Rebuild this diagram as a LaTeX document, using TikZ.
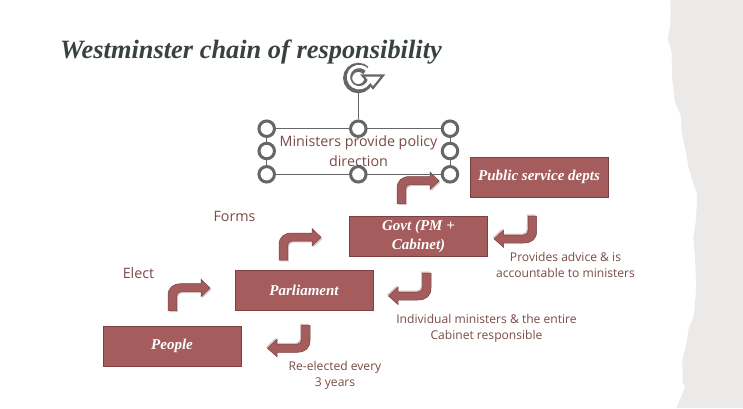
\documentclass[tikz,border=0pt]{standalone}
\usepackage{fontspec}
\setmainfont{Liberation Serif}
\setsansfont{Open Sans}
\definecolor{boxfill}{HTML}{A45C5C}
\definecolor{boxline}{HTML}{7D3F3F}
\definecolor{shadowc}{HTML}{D8C2C2}
\definecolor{labelc}{HTML}{7A4B46}
\definecolor{titlec}{HTML}{3A4141}
\definecolor{paperc}{HTML}{EBEAE8}
\definecolor{handlec}{HTML}{666666}
\newcommand{\bentuppath}{(0,0) -- (0,-15) .. controls (0,-23) and (5,-27) .. (13,-27) -- (33,-27) -- (33,-31.5) -- (42,-22.7) -- (33,-14) -- (33,-19) -- (13,-19) .. controls (10,-19) and (8.5,-17) .. (8.5,-14) -- (8.5,0) -- cycle}
\newcommand{\bentdownpath}{(0,0) -- (0,15) .. controls (0,23) and (-5,27) .. (-13,27) -- (-33,27) -- (-33,31.5) -- (-42.5,23) -- (-33,14) -- (-33,19) -- (-13,19) .. controls (-10,19) and (-8.5,17) .. (-8.5,14) -- (-8.5,0) -- cycle}
\tikzset{
  x=1pt,y=-1pt,
  redbox/.style={draw=boxline,line width=1pt,fill=boxfill,minimum width=138pt,minimum height=40pt,inner sep=0pt,align=center,text=white,font=\rmfamily\bfseries\itshape\fontsize{15}{19}\selectfont},
  lab/.style={text=labelc,align=center,inner sep=0pt,font=\sffamily\fontsize{12.1}{16.5}\selectfont},
  biglab/.style={text=labelc,align=center,inner sep=0pt,font=\sffamily\fontsize{14.3}{20}\selectfont},
  handle/.style={circle,draw=handlec,line width=3pt,fill=white,minimum size=15.5pt,inner sep=0pt},
  selline/.style={draw=handlec,line width=1pt},
  blockarrow/.style={fill=boxfill,draw=boxline,line width=.5pt},
  pics/bentup/.style={code={
    \fill[shadowc,shift={(1.4,1.4)}] \bentuppath;
    \path[blockarrow] \bentuppath;
  }},
  pics/bentdown/.style={code={
    \fill[shadowc,shift={(-1.4,-1.4)}] \bentdownpath;
    \path[blockarrow] \bentdownpath;
  }}
}
\begin{document}
\begin{tikzpicture}
\useasboundingbox (0,0) rectangle (743,408);
\fill[white] (0,0) rectangle (743,408);
% torn paper edge
\fill[paperc] (743,0) -- (670.3,0) -- (670.7,13) -- (670,27) -- (667.7,39) -- (671.7,52) -- (672.3,80) -- (675,102) -- (680.7,115) -- (681.7,133) -- (686.7,155) -- (688.3,167) -- (693.3,183) -- (697.3,195) -- (696,220) -- (693.3,238) -- (695,257) -- (696.3,287) -- (694,315) -- (688.3,330) -- (686.7,343) -- (682.3,360) -- (682.7,383) -- (685,387) -- (676.7,408) -- (743,408) -- cycle;
% title
\node[anchor=west,inner sep=0pt,text=titlec,font=\rmfamily\bfseries\itshape\fontsize{26.4}{30}\selectfont] (title) at (60,52) {Westminster chain of responsibility};
% boxes
\node[redbox] (psd) at (539,177) {Public service depts};
\node[redbox] (govt) at (418.5,236.5) {Govt (PM +\\Cabinet)};
\node[redbox] (parl) at (304,290) {Parliament};
\node[redbox] (people) at (172,346) {People};
% block arrows
\pic at (397,203.5) {bentup};
\pic at (279,260) {bentup};
\pic at (168,310.7) {bentup};
\pic at (536.7,216) {bentdown};
\pic at (431,273) {bentdown};
\pic at (310,325.3) {bentdown};
% labels
\node[biglab] (forms) at (234.5,216) {Forms};
\node[biglab] (elect) at (138.5,273) {Elect};
\node[lab] (advice) at (565.5,265) {Provides advice \& is\\accountable to ministers};
\node[lab] (indiv) at (486.5,328.5) {Individual ministers \& the entire\\Cabinet responsible};
\node[lab] (reel) at (335,375.5) {Re-elected every\\3 years};
% selected text box
\coordinate (tl) at (266.7,128.7);
\coordinate (br) at (450,174.3);
\draw[selline] (tl) rectangle (br);
\node[handle] (h1) at (266.7,128.7) {};
\node[handle] (h2) at (358.3,128.7) {};
\node[handle] (h3) at (450,128.7) {};
\node[handle] (h4) at (266.7,151) {};
\node[handle] (h5) at (450,151) {};
\node[handle] (h6) at (266.7,174.3) {};
\node[handle] (h7) at (358.3,174.3) {};
\node[handle] (h8) at (450,174.3) {};
\node[biglab] (minis) at (358.5,151) {Ministers provide policy\\direction};
\coordinate (rot) at (358.3,92);
\draw[selline] (rot) -- (h2);
% rotation icon
\draw[handlec,line width=9pt] (369,78) arc[start angle=0,end angle=315,radius=10.7];
\draw[handlec,line width=2.2pt,line join=miter,fill=white] (362.5,75.5) -- (383,75.5) -- (373,88) -- cycle;
\draw[white,line width=3.2pt] (369.7,79) arc[start angle=10,end angle=322,radius=10.7];
\end{tikzpicture}
\end{document}
